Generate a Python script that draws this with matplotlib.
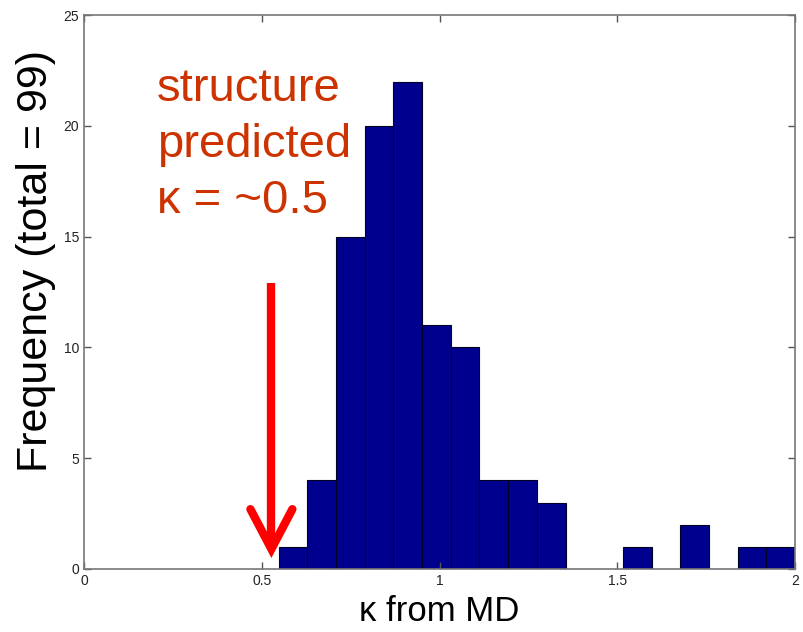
import numpy as np
import matplotlib
matplotlib.use('Agg')
import matplotlib.pyplot as plt

plt.rcParams['font.family'] = ['Liberation Sans', 'DejaVu Sans']

# Histogram of kappa values from MD (18 bins between min and max)
kappa_min = 0.547
kappa_max = 2.0
counts = [1, 4, 15, 20, 22, 11, 10, 4, 4, 3, 0, 0, 1, 0, 2, 0, 1, 1]

edges = np.linspace(kappa_min, kappa_max, len(counts) + 1)

fig = plt.figure(figsize=(8.04, 6.32), dpi=100)
ax = fig.add_axes([0.1045, 0.0997, 0.8845, 0.8765])

ax.bar(edges[:-1], counts, width=np.diff(edges), align='edge',
       color='#00008F', edgecolor='#000022', linewidth=0.8)

ax.set_xlim(0, 2)
ax.set_ylim(0, 25)
ax.set_xticks([0, 0.5, 1, 1.5, 2])
ax.set_xticklabels(['0', '0.5', '1', '1.5', '2'])
ax.set_yticks([0, 5, 10, 15, 20, 25])
ax.tick_params(direction='in', top=True, right=True, length=5,
               width=1, color='#555555', labelsize=10, labelcolor='#222222')
for s in ax.spines.values():
    s.set_color('#777777')
    s.set_linewidth(1.2)

ax.set_xlabel('κ from MD', fontsize=25, labelpad=5)
ax.set_ylabel('Frequency (total = 99)', fontsize=31)
ax.yaxis.set_label_coords(-0.04, 0.556)

# annotation (baseline of the last line)
ax.text(0.205, 16.05, 'structure\npredicted\nκ = ~0.5', color='#CC3300',
        fontsize=34, va='baseline', ha='left', linespacing=1.36)

# red arrow
ax.plot([0.527, 0.527], [12.9, 1.3], color='#FF0000', lw=6, solid_capstyle='butt')
ax.plot([0.468, 0.527, 0.586], [2.7, 0.9, 2.7], color='#FF0000', lw=6,
        solid_capstyle='round', solid_joinstyle='miter')

fig.savefig('out.png', dpi=100)
